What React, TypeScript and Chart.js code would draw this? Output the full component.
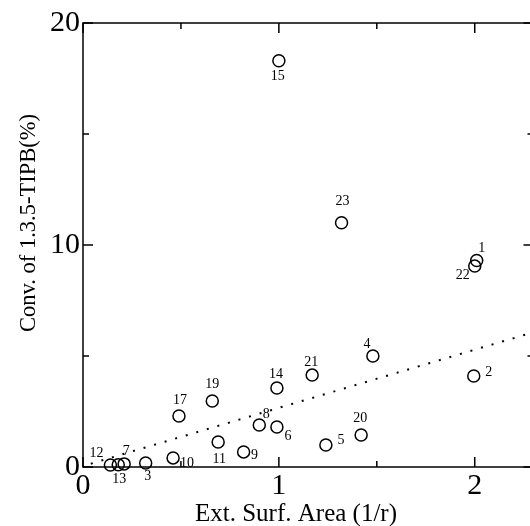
import { useEffect, useRef } from "react";
import { Chart, registerables } from "chart.js";

Chart.register(...registerables);

// ---- data ----
const pointIds = ["1", "2", "3", "4", "5", "6", "7", "8", "9", "10", "11", "12", "13", "14", "15", "17", "19", "20", "21", "22", "23"];
const xValues = [2.01, 1.995, 0.32, 1.48, 1.24, 0.99, 0.21, 0.9, 0.82, 0.46, 0.69, 0.14, 0.18, 0.99, 1.0, 0.49, 0.66, 1.42, 1.17, 2.0, 1.32];
const yValues = [9.3, 4.1, 0.18, 5.0, 0.99, 1.8, 0.14, 1.89, 0.68, 0.41, 1.13, 0.09, 0.1, 3.56, 18.3, 2.3, 2.97, 1.44, 4.14, 9.05, 11.0];
const trendX = [0.04, 2.3];
const trendY = [0.15, 6.07];
const xTickValues = [0, 1, 2];
const xMinorTicks = [0.5, 1.5];
const yTickValues = [0, 10, 20];
const yMinorTicks = [5, 15];
const xTitle = "Ext. Surf. Area (1/r)";
const yTitle = "Conv. of 1.3.5-TIPB(%)";

// ---- label placement (style/layout) ----
const labelOffsets: Record<string, [number, number]> = {
  "1": [5, -12], "2": [15, -4], "3": [2, 13], "4": [-6, -12], "5": [15, -5],
  "6": [11, 9], "7": [2, -13], "8": [7, -11], "9": [11, 3], "10": [14, 5],
  "11": [1, 17], "12": [-14, -12], "13": [1, 15], "14": [-1, -14], "15": [-1, 16],
  "17": [1, -16], "19": [0, -17], "20": [-1, -17], "21": [-1, -13], "22": [-12, 9],
  "23": [1, -21],
};

const SERIF = "'Liberation Serif', 'Times New Roman', serif";

const framePlugin = {
  id: "frameTicks",
  afterDraw(chart: any) {
    const { ctx, chartArea: a, scales } = chart;
    const xs = scales.x, ys = scales.y;
    ctx.save();
    ctx.strokeStyle = "#000";
    ctx.lineWidth = 1.5;
    ctx.strokeRect(a.left, a.top, a.right - a.left, a.bottom - a.top);
    const major = 10, minor = 6;
    ctx.beginPath();
    const xt = (vals: number[], len: number) => vals.forEach((v) => {
      const px = xs.getPixelForValue(v);
      ctx.moveTo(px, a.bottom); ctx.lineTo(px, a.bottom - len);
      ctx.moveTo(px, a.top); ctx.lineTo(px, a.top + len);
    });
    const yt = (vals: number[], len: number) => vals.forEach((v) => {
      const py = ys.getPixelForValue(v);
      ctx.moveTo(a.left, py); ctx.lineTo(a.left + len, py);
      ctx.moveTo(a.right, py); ctx.lineTo(a.right - len, py);
    });
    xt(xTickValues, major); xt(xMinorTicks, minor);
    yt(yTickValues, major); yt(yMinorTicks, minor);
    ctx.stroke();

    // point labels
    ctx.fillStyle = "#000";
    ctx.font = `14px ${SERIF}`;
    ctx.textAlign = "center";
    ctx.textBaseline = "middle";
    const meta = chart.getDatasetMeta(0);
    meta.data.forEach((el: any, i: number) => {
      const id = pointIds[i];
      const off = labelOffsets[id] || [0, -14];
      ctx.fillText(id, el.x + off[0], el.y + off[1]);
    });

    // axis titles
    ctx.font = `25px ${SERIF}`;
    ctx.fillText(xTitle, a.left + 213, a.bottom + 47);
    ctx.font = `22.5px ${SERIF}`;
    ctx.translate(a.left - 54, a.top + 200);
    ctx.rotate(-Math.PI / 2);
    ctx.fillText(yTitle, 0, 0);
    ctx.restore();
  },
};

export default function App() {
  const ref = useRef<HTMLCanvasElement | null>(null);
  useEffect(() => {
    if (!ref.current) return;
    const chart = new Chart(ref.current, {
      type: "scatter",
      data: {
        datasets: [
          {
            label: "points",
            data: xValues.map((x, i) => ({ x, y: yValues[i] })),
            pointStyle: "circle",
            pointRadius: 6,
            pointHoverRadius: 6,
            borderWidth: 1.5,
            borderColor: "#000",
            backgroundColor: "rgba(0,0,0,0)",
            clip: false as any,
          },
          {
            label: "trend",
            type: "line" as any,
            data: trendX.map((x, i) => ({ x, y: trendY[i] })),
            showLine: true,
            borderColor: "#000",
            borderWidth: 2,
            borderDash: [2, 9],
            pointRadius: 0,
            fill: false,
          },
        ],
      },
      plugins: [framePlugin],
      options: {
        responsive: false,
        animation: false,
        layout: { padding: { top: 23, right: 6, left: 0, bottom: 0 } },
        plugins: { legend: { display: false }, tooltip: { enabled: false } },
        scales: {
          x: {
            type: "linear",
            min: 0,
            max: 2.3,
            grid: { display: false, drawTicks: false },
            border: { display: false },
            afterBuildTicks: (s: any) => { s.ticks = xTickValues.map((v) => ({ value: v })); },
            afterFit: (s: any) => { s.height = 59; },
            ticks: { padding: 1, color: "#000", font: { family: SERIF, size: 30 }, maxRotation: 0 },
          },
          y: {
            type: "linear",
            min: 0,
            max: 20,
            grid: { display: false, drawTicks: false },
            border: { display: false },
            afterBuildTicks: (s: any) => { s.ticks = yTickValues.map((v) => ({ value: v })); },
            afterFit: (s: any) => { s.width = 83; },
            ticks: { padding: 3, color: "#000", font: { family: SERIF, size: 30 } },
          },
        },
      },
    });
    return () => chart.destroy();
  }, []);
  return (
    <div style={{ position: "fixed", left: 0, top: 0, width: 530, height: 526, overflow: "hidden", background: "#fff" }}>
      <canvas ref={ref} width={541} height={526} style={{ width: 541, height: 526, display: "block" }} />
    </div>
  );
}
